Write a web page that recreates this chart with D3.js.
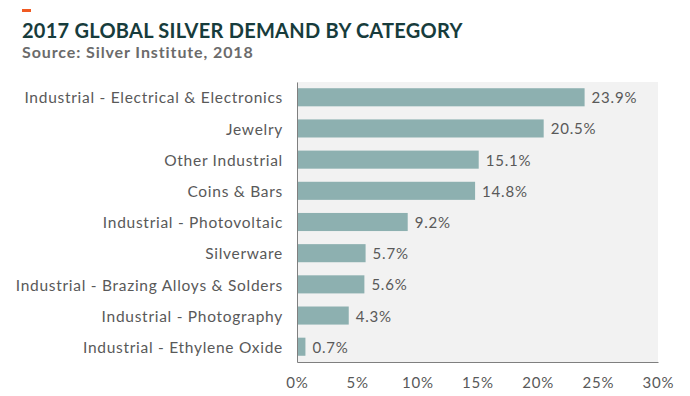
<!DOCTYPE html>
<html>
<head>
<meta charset="utf-8">
<script src="https://cdn.jsdelivr.net/npm/d3@7"></script>
<style>
  body { margin: 0; background: #fff; }
  svg text { font-family: "Lato", "Open Sans", sans-serif; }
</style>
</head>
<body>
<div id="chart"></div>
<script>
var categories = [
    'Industrial - Electrical & Electronics',
    'Jewelry',
    'Other Industrial',
    'Coins & Bars',
    'Industrial - Photovoltaic',
    'Silverware',
    'Industrial - Brazing Alloys & Solders',
    'Industrial - Photography',
    'Industrial - Ethylene Oxide'
];
var shares = [23.9, 20.5, 15.1, 14.8, 9.2, 5.7, 5.6, 4.3, 0.7];
var ticks = [0, 5, 10, 15, 20, 25, 30];

var width = 690, height = 396;
var plotLeft = 297, plotRight = 658, plotTop = 82, plotBottom = 362;

var svg = d3.select('#chart')
    .append('svg')
        .attr('width', width)
        .attr('height', height);

// little orange dash above the title
svg.append('rect')
    .attr('x', 22).attr('y', 9)
    .attr('width', 9).attr('height', 3)
    .attr('fill', '#f05a22');

svg.append('text')
    .attr('x', 22).attr('y', 38)
    .style('font-size', '20px')
    .style('font-weight', 'bold')
    .style('letter-spacing', '0.25px')
    .attr('fill', '#173c3c')
    .text('2017 GLOBAL SILVER DEMAND BY CATEGORY');

svg.append('text')
    .attr('x', 22).attr('y', 58)
    .style('font-size', '16px')
    .style('font-weight', 'bold')
    .style('letter-spacing', '0.9px')
    .attr('fill', '#6b6b6b')
    .text('Source: Silver Institute, 2018');

var x = d3.scaleLinear()
    .domain([0, 30])
    .range([plotLeft, plotRight]);

var y = d3.scaleBand()
    .domain(categories)
    .range([plotTop, plotBottom])
    .paddingInner(0.42)
    .paddingOuter(0.2);

svg.append('rect')
    .attr('x', plotLeft).attr('y', plotTop)
    .attr('width', plotRight - plotLeft).attr('height', plotBottom - plotTop)
    .attr('fill', '#f2f2f2');

var rows = categories.map(function(c, i) { return {name: c, value: shares[i]}; });

svg.selectAll('.bar')
    .data(rows)
    .enter()
    .append('rect')
    .classed('bar', true)
    .attr('x', x(0))
    .attr('y', d => y(d.name))
    .attr('width', d => x(d.value) - x(0))
    .attr('height', y.bandwidth())
    .attr('fill', '#8db0b0');

svg.selectAll('.val')
    .data(rows)
    .enter()
    .append('text')
    .classed('val', true)
    .attr('x', d => x(d.value) + 7)
    .attr('y', d => y(d.name) + y.bandwidth() / 2)
    .attr('dy', '0.4em')
    .style('font-size', '15px')
    .style('letter-spacing', '0.8px')
    .attr('fill', '#595959')
    .text(d => d.value.toFixed(1) + '%');

var yAxis = svg.append('g')
    .attr('transform', 'translate(' + plotLeft + ',0)')
    .call(d3.axisLeft(y).tickSize(0).tickPadding(14));
yAxis.select('.domain').attr('stroke', '#7f7f7f');
yAxis.selectAll('text')
    .attr('dy', '0.4em')
    .style('font-size', '15.5px')
    .style('letter-spacing', '0.72px')
    .attr('fill', '#595959');

var xAxis = svg.append('g')
    .attr('transform', 'translate(0,' + plotBottom + ')')
    .call(d3.axisBottom(x).tickValues(ticks).tickSize(0).tickPadding(15)
        .tickFormat(d => d + '%'));
xAxis.select('.domain').attr('stroke', '#7f7f7f');
xAxis.selectAll('text')
    .style('font-size', '15px')
    .style('letter-spacing', '0.8px')
    .attr('fill', '#595959');
</script>
</body>
</html>
